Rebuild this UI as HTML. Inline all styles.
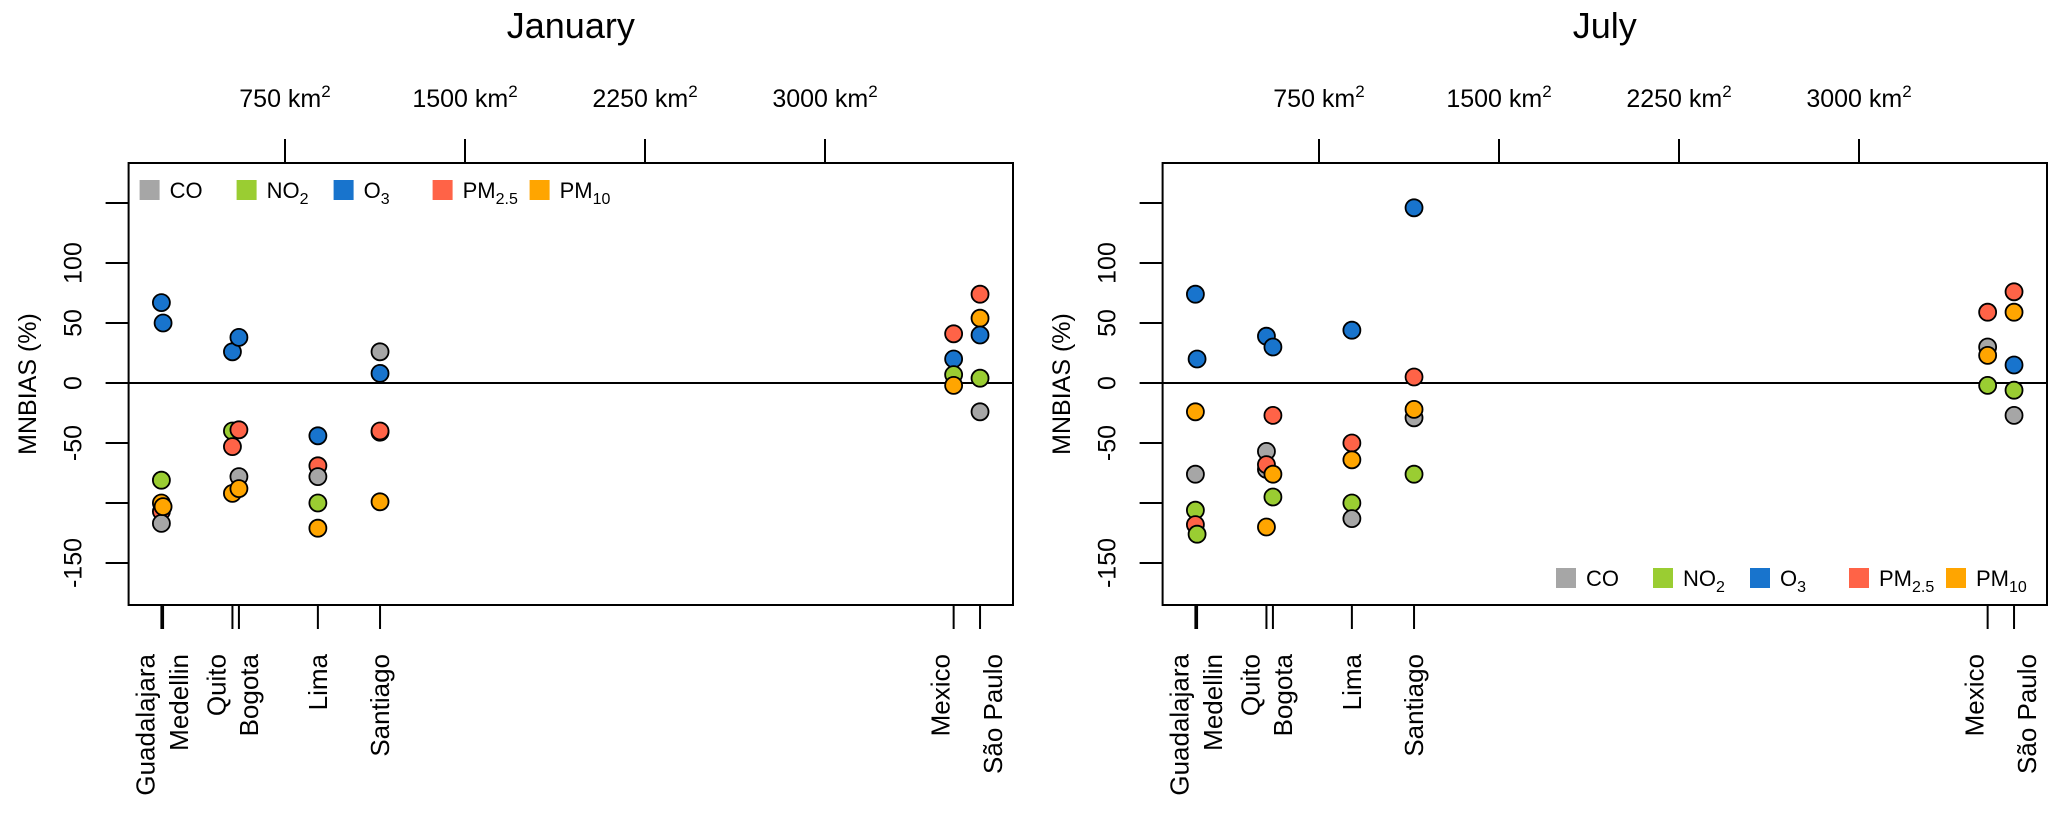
<!DOCTYPE html>
<html><head><meta charset="utf-8"><style>
html,body{margin:0;padding:0;background:#fff;}
svg{display:block;font-family:"Liberation Sans",Arial,sans-serif;}
</style></head><body>
<svg id="chart" width="2067" height="817" viewBox="0 0 2067 817" xmlns="http://www.w3.org/2000/svg"></svg>
<script>
const cities = ["Guadalajara","Medellin","Quito","Bogota","Lima","Santiago","Mexico","São Paulo"];
const cityAreas = [235,242,531,558,887,1146,3536,3646];
const areaTicks = [750,1500,2250,3000];
const yTicks = [-150,-100,-50,0,50,100,150];
const yTickLabels = ["-150","","-50","0","50","100",""];
const pollutants = ["CO","NO2","O3","PM2.5","PM10"];
// January values: [city index, pollutant index, value]
const janCity = [0,0,0,0,0,1,1, 2,2,2,2, 3,3,3,3, 4,4,4,4,4, 5,5,5,5,5, 6,6,6,6, 7,7,7,7,7];
const janPol  = [2,1,4,3,0,2,4, 2,1,3,4, 2,3,0,4, 2,3,0,1,4, 0,2,0,3,4, 3,2,1,4, 3,4,2,1,0];
const janVal  = [67,-81,-100,-107,-117,50,-103, 26,-40,-53,-92, 38,-39,-78,-88, -44,-69,-78,-100,-121, 26,8,-41,-40,-99, 41,20,7,-2, 74,54,40,4,-24];
// July
const julCity = [0,0,0,0,0,1,1, 2,2,2,2,2, 3,3,3,3, 4,4,4,4,4, 5,5,5,5,5, 6,6,6,6, 7,7,7,7,7];
const julPol  = [2,4,0,1,3,2,1, 2,0,0,3,4, 2,3,4,1, 2,3,4,1,0, 2,3,0,4,1, 3,0,4,1, 3,4,2,1,0];
const julVal  = [74,-24,-76,-106,-118,20,-126, 39,-57,-72,-68,-120, 30,-27,-76,-95, 44,-50,-64,-100,-113, 146,5,-29,-22,-76, 59,30,23,-2, 76,59,15,-6,-27];

const colors = ["#a6a6a6","#9acd32","#1874cd","#ff6347","#ffa500"];
const NS = "http://www.w3.org/2000/svg";
const svg = document.getElementById("chart");
function mk(tag, attrs, parent, text){
  const e = document.createElementNS(NS, tag);
  for (const k in attrs) e.setAttribute(k, attrs[k]);
  if (text !== undefined) e.textContent = text;
  (parent||svg).appendChild(e);
  return e;
}
const labelDx = [-16,16,-16,10,0,0,-13,13];
function polLabel(t, i){
  const names = [["CO",""],["NO","2"],["O","3"],["PM","2.5"],["PM","10"]];
  t.appendChild(document.createTextNode(names[i][0]));
  if (names[i][1]){
    const s = document.createElementNS(NS,"tspan");
    s.setAttribute("font-size","16"); s.setAttribute("dy","6");
    s.textContent = names[i][1]; t.appendChild(s);
  }
}
function panel(off, title, cIdx, pIdx, vals, legTop, name){
  const g = mk("g", {}, svg);
  
  
  const L = 128.6 + off, R = 1013 + off, T = 163, B = 605;
  const xS = a => 105 + off + a * 180 / 750;
  const yS = v => 383 - v * 1.2;
  const t = mk("text", {x:(L+R)/2, y:38, "text-anchor":"middle", "font-size":36}, g, title);
  
  
  areaTicks.forEach(a => {
    const l = mk("line", {x1:xS(a), x2:xS(a), y1:139, y2:T, stroke:"#000", "stroke-width":2}, g);
    
    
    const tx = mk("text", {x:xS(a), y:107, "text-anchor":"middle", "font-size":25}, g, a + " km");
    const s = document.createElementNS(NS,"tspan");
    s.setAttribute("font-size","17"); s.setAttribute("dy","-10"); s.textContent = "2"; tx.appendChild(s);
    
    
  });
  yTicks.forEach((v, i) => {
    const l = mk("line", {x1:L-23, x2:L, y1:yS(v), y2:yS(v), stroke:"#000", "stroke-width":2}, g);
    
    
    if (yTickLabels[i]) {
      const tx = mk("text", {x:0, y:0, "text-anchor":"middle", "font-size":25,
        transform:`translate(${L-55},${yS(v)}) rotate(-90)`}, g, yTickLabels[i]);
      tx.setAttribute("dominant-baseline","central");
      
      
    }
  });
  const yt = mk("text", {x:0, y:0, "text-anchor":"middle", "font-size":25,
    transform:`translate(${off+28},${(T+B)/2}) rotate(-90)`}, g, "MNBIAS (%)");
  yt.setAttribute("dominant-baseline","central");
  
  
  cities.forEach((c, i) => {
    const x = xS(cityAreas[i]);
    const l = mk("line", {x1:x, x2:x, y1:B, y2:629, stroke:"#000", "stroke-width":2}, g);
    
    
    const tx = mk("text", {x:0, y:0, "text-anchor":"end", "font-size":26,
      transform:`translate(${x+labelDx[i]},654) rotate(-90)`}, g, c);
    tx.setAttribute("dominant-baseline","central");
    
    
  });
  const z = mk("line", {x1:L, x2:R, y1:yS(0), y2:yS(0), stroke:"#000", "stroke-width":2}, g);
  
  
  const n = Math.min(vals.length, cIdx.length, pIdx.length);
  for (let k = 0; k < n; k++) {
    const v = vals[k];
    const c = mk("ellipse", {cx:xS(cityAreas[cIdx[k]]), cy:yS(v), rx:8.5, ry:8.5,
      fill:colors[pIdx[k]], stroke:"#000", "stroke-width":1.8}, g);
    
    
  }
  const b = mk("rect", {x:L, y:T, width:R-L, height:B-T, fill:"none", stroke:"#000", "stroke-width":2}, g);
  
  
  const lg = mk("g", {}, g);
  
  
  const lx0 = legTop ? L + 21 : R - 481;
  const ly = legTop ? 190 : 578;
  const offs = [0, 97, 194, 293, 390];
  pollutants.forEach((p, i) => {
    const cx = lx0 + offs[i];
    const sq = mk("rect", {x:cx-10, y:ly-10, width:20, height:20, fill:colors[i]}, lg);
    
    
    const tx = mk("text", {x:cx+20, y:ly+8, "font-size":22}, lg);
    polLabel(tx, i);
    
    
  });
}
panel(0, "January", janCity, janPol, janVal, true, "january");
panel(1034, "July", julCity, julPol, julVal, false, "july");
</script>
</body></html>
